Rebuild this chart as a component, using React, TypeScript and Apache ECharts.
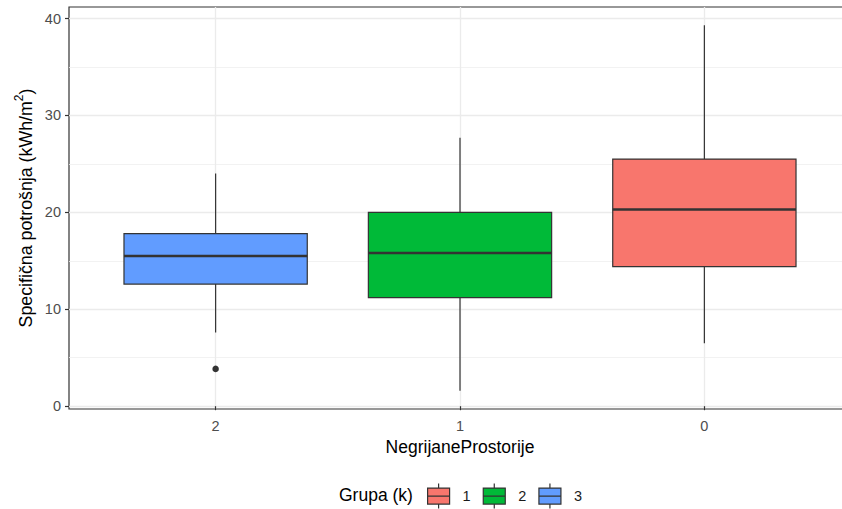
import React, { useEffect, useRef } from 'react';
import * as echarts from 'echarts';

// x-axis categories (NegrijaneProstorije), shown left to right
const categories = ['2', '1', '0'];
// legend groups (Grupa (k)) and their fills
const groups = ['1', '2', '3'];
const groupColors = ['#F8766D', '#00BA38', '#619CFF'];
// which category each group sits in
const groupCategory = ['0', '1', '2'];
// box statistics per group: [lower whisker, Q1, median, Q3, upper whisker]
const statsGroup1 = [6.5, 14.4, 20.3, 25.5, 39.3];
const statsGroup2 = [1.6, 11.2, 15.8, 20.0, 27.7];
const statsGroup3 = [7.6, 12.6, 15.5, 17.8, 24.0];
// outliers: [category, value]
const outlierCategories = ['2'];
const outlierValues = [3.85];
// axis ticks
const yTicks = [0, 10, 20, 30, 40];
const yMinorTicks = [5, 15, 25, 35];

const FONT = '"Liberation Sans", Arial, Helvetica, sans-serif';
const EDGE = '#333333';

const catPos = (c: string) => categories.indexOf(c) + 1;

export default function App() {
  const ref = useRef<HTMLDivElement>(null);

  useEffect(() => {
    if (!ref.current) return;
    const chart = echarts.init(ref.current, null, { renderer: 'svg' });
    const allStats = [statsGroup1, statsGroup2, statsGroup3];

    const renderBox = (params: any, api: any) => {
      const x = api.value(0);
      const lo = api.coord([x, api.value(1)]);
      const q1 = api.coord([x, api.value(2)]);
      const med = api.coord([x, api.value(3)]);
      const q3 = api.coord([x, api.value(4)]);
      const hi = api.coord([x, api.value(5)]);
      const half = api.size([0.75, 0])[0] / 2;
      const color = api.visual('color');
      return {
        type: 'group',
        children: [
          { type: 'line', shape: { x1: hi[0], y1: hi[1], x2: q3[0], y2: q3[1] }, style: { stroke: EDGE, lineWidth: 1.2 } },
          { type: 'line', shape: { x1: q1[0], y1: q1[1], x2: lo[0], y2: lo[1] }, style: { stroke: EDGE, lineWidth: 1.2 } },
          { type: 'rect', shape: { x: q3[0] - half, y: q3[1], width: half * 2, height: q1[1] - q3[1] }, style: { fill: color, stroke: EDGE, lineWidth: 1.2 } },
          { type: 'line', shape: { x1: med[0] - half, y1: med[1], x2: med[0] + half, y2: med[1] }, style: { stroke: EDGE, lineWidth: 2.6 } },
        ],
      };
    };

    const boxSeries = groups.map((g, i) => ({
      type: 'custom',
      name: g,
      renderItem: renderBox,
      itemStyle: { color: groupColors[i], borderColor: EDGE, borderWidth: 1.2 },
      encode: { x: 0, y: [1, 2, 3, 4, 5] },
      data: [[catPos(groupCategory[i]), ...allStats[i]]],
      z: 3,
    }));

    const glyph = 'path://M0,4.5H22V20.5H0Z M11,0V4.5 M11,20.5V25 M0,12.5H22';

    chart.setOption({
      animation: false,
      grid: {
        left: 69, top: 7, right: -9, bottom: 100,
        outerBoundsMode: 'none',
        containLabel: false,
        show: true, borderColor: EDGE, borderWidth: 1.2, backgroundColor: 'transparent',
      },
      xAxis: {
        type: 'value',
        min: 0.4,
        max: 3.6,
        name: 'NegrijaneProstorije',
        nameLocation: 'middle',
        nameGap: 29,
        nameMoveOverlap: false,
        nameTextStyle: { fontSize: 17.5, color: '#000', fontFamily: FONT },
        axisLine: { show: false },
        axisTick: { show: true, customValues: [1, 2, 3], length: 4, lineStyle: { color: EDGE, width: 1.2 } },
        axisLabel: {
          customValues: [1, 2, 3],
          formatter: (v: number) => categories[Math.round(v) - 1] ?? '',
          fontSize: 14.5,
          color: '#4D4D4D',
          fontFamily: FONT,
          margin: 9,
        },
        splitLine: { show: true, lineStyle: { color: '#EBEBEB', width: 1.3 } },
      },
      yAxis: [
        {
          type: 'value',
          min: -0.29,
          max: 41.19,
          name: 'Specifična potrošnja (kWh/m{sup|2})',
          nameLocation: 'middle',
          nameGap: 30,
          nameMoveOverlap: false,
          nameTextStyle: {
            fontSize: 17.8,
            color: '#000',
            fontFamily: FONT,
            lineHeight: 26,
            rich: { sup: { fontSize: 12, lineHeight: 12, verticalAlign: 'top', color: '#000', fontFamily: FONT } },
          },
          axisLine: { show: false },
          axisTick: { show: true, customValues: yTicks, length: 4, lineStyle: { color: EDGE, width: 1.2 } },
          axisLabel: { customValues: yTicks, fontSize: 14.5, color: '#4D4D4D', fontFamily: FONT, margin: 8 },
          splitLine: { show: true, lineStyle: { color: '#EBEBEB', width: 1.3 } },
        },
        {
          type: 'value',
          min: -0.29,
          max: 41.19,
          position: 'left',
          axisLine: { show: false },
          axisTick: { show: false, customValues: yMinorTicks },
          axisLabel: { show: false, customValues: yMinorTicks },
          splitLine: { show: true, lineStyle: { color: '#EFEFEF', width: 0.8 } },
        },
      ],
      legend: {
        data: groups.map((g) => ({ name: g, icon: glyph })),
        left: 427,
        top: 483,
        padding: 0,
        itemWidth: 22,
        itemHeight: 25,
        itemGap: 12,
        selectedMode: false,
        textStyle: { fontSize: 14.5, color: '#1A1A1A', fontFamily: FONT, padding: [0, 0, 0, 8] },
        itemStyle: { borderColor: EDGE, borderWidth: 1.2 },
      },
      graphic: [
        {
          type: 'text',
          left: 339,
          top: 486,
          style: { text: 'Grupa (k)', fontSize: 17.5, fill: '#000', fontFamily: FONT },
        },
      ],
      series: [
        ...boxSeries,
        {
          type: 'scatter',
          name: 'outliers',
          symbol: 'circle',
          symbolSize: 6.5,
          itemStyle: { color: EDGE, opacity: 1 },
          data: outlierCategories.map((c, i) => [catPos(c), outlierValues[i]]),
          z: 4,
        },
      ],
    });

    return () => chart.dispose();
  }, []);

  return <div ref={ref} style={{ position: 'absolute', left: 0, top: 0, width: 842, height: 509 }} />;
}
